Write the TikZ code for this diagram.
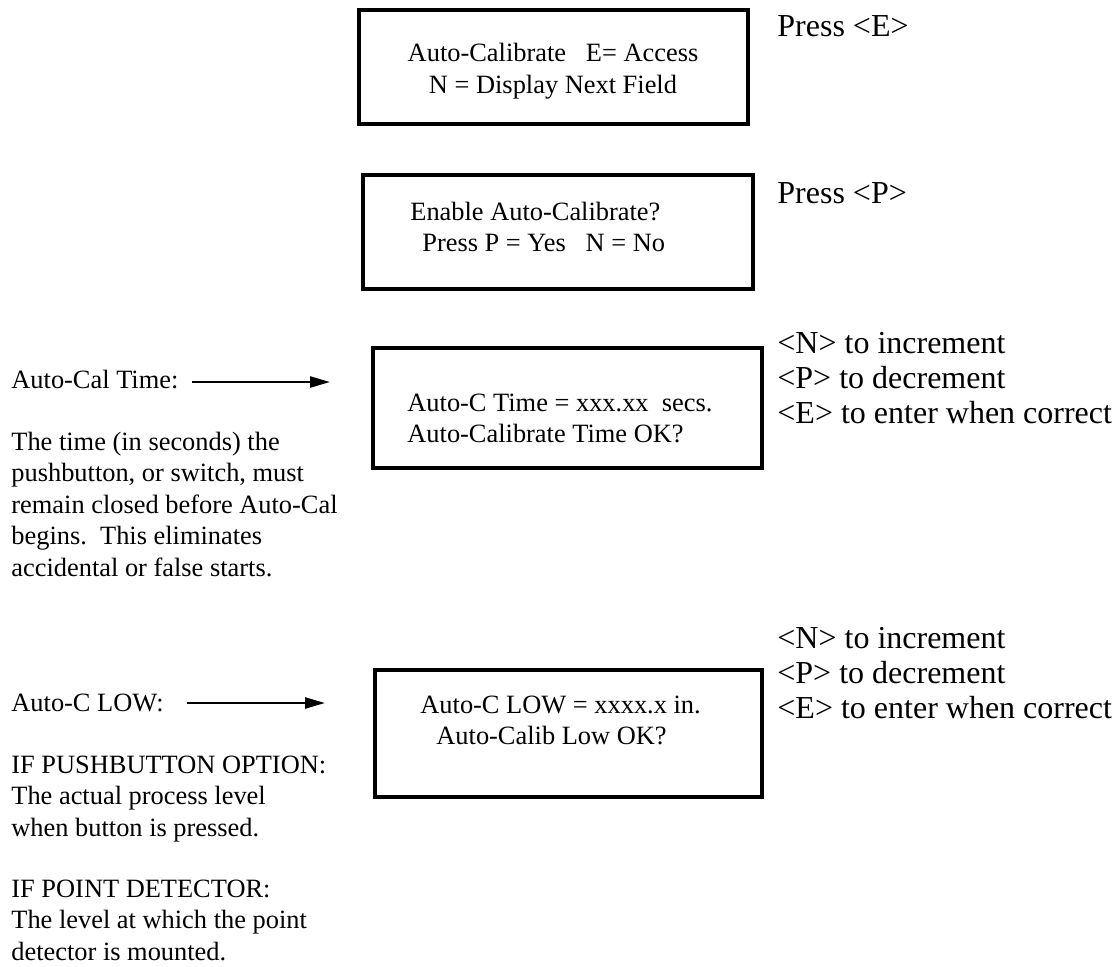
\documentclass[tikz,border=0pt]{standalone}
\usepackage{fontspec}
\setmainfont{Liberation Serif}
\usetikzlibrary{arrows.meta}
\begin{document}
\begin{tikzpicture}[x=0.5pt,y=-0.5pt,
  panel/.style 2 args={draw, line width=1.8pt, minimum width=#1, minimum height=#2, inner sep=0pt},
  note/.style={inner sep=0pt, align=left, font=\fontsize{13.2}{15.75}\selectfont},
  screen/.style={inner sep=0pt, font=\fontsize{13.2}{15.75}\selectfont},
  keys/.style={inner sep=0pt, align=left, font=\fontsize{16}{17.5}\selectfont},
  pointer/.style={line width=1.2pt, -{Triangle[length=10pt,width=5.5pt]}}]
\useasboundingbox (0,0) rectangle (1120,966);

% display panels
\node[panel={194.5pt}{57pt}]   (b1) at (553.5,67)  {};
\node[panel={195pt}{57pt}]     (b2) at (558,232)   {};
\node[panel={194.5pt}{60pt}]   (b3) at (567.5,408) {};
\node[panel={193.5pt}{63.5pt}] (b4) at (568.5,733.5) {};

% panel texts (anchored at the baseline of the last line)
\node[screen, align=center, anchor=base] (t1) at (553,93)
  {Auto-Calibrate\hspace{0.75em}E= Access\\N = Display Next Field};
\node[screen, align=left, anchor=base west] (t2) at (410,251.5)
  {Enable Auto-Calibrate?\\\hspace{6pt}Press P = Yes\hspace{0.75em}N = No};
\node[screen, align=left, anchor=base west] (t3) at (407,442.5)
  {Auto-C Time = xxx.xx\hspace{0.5em}secs.\\Auto-Calibrate Time OK?};
\node[screen, align=left, anchor=base west] (t4) at (420,744.5)
  {Auto-C LOW = xxxx.x in.\\\hspace{8pt}Auto-Calib Low OK?};

% key instructions
\node[keys, anchor=base west] (k1) at (777,36)  {Press <E>};
\node[keys, anchor=base west] (k2) at (777,203) {Press <P>};
\node[keys, anchor=base west] (k3) at (777,423)
  {<N> to increment\\<P> to decrement\\<E> to enter when correct};
\node[keys, anchor=base west] (k4) at (777,718)
  {<N> to increment\\<P> to decrement\\<E> to enter when correct};

% field descriptions
\node[note, anchor=base west] (d1) at (11,388) {Auto-Cal Time:};
\node[note, anchor=base west] (d2) at (11,576)
  {The time (in seconds) the\\pushbutton, or switch, must\\remain closed before Auto-Cal\\begins.\hspace{0.5em}This eliminates\\accidental or false starts.};
\node[note, anchor=base west] (d3) at (11,711) {Auto-C LOW:};
\node[note, anchor=base west] (d4) at (11,836)
  {IF PUSHBUTTON OPTION:\\The actual process level\\when button is pressed.};
\node[note, anchor=base west] (d5) at (11,960)
  {IF POINT DETECTOR:\\The level at which the point\\detector is mounted.};

% pointers toward the panels
\coordinate (e1) at (330,382);
\coordinate (e2) at (325,703);
\draw[pointer] ([xshift=6.5pt,yshift=3pt]d1.base east) -- (e1);
\draw[pointer] ([xshift=11.5pt,yshift=4pt]d3.base east) -- (e2);
\end{tikzpicture}
\end{document}
